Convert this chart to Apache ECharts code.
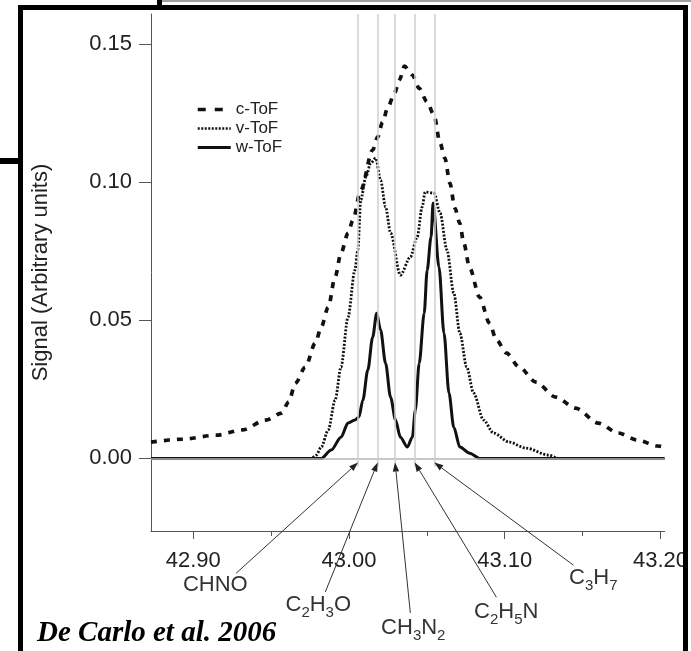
<!DOCTYPE html>
<html>
<head>
<meta charset="utf-8">
<script src="https://cdn.jsdelivr.net/npm/echarts@6/dist/echarts.min.js"></script>
<style>
  html, body { margin: 0; padding: 0; background: #fff; }
  #chart { width: 691px; height: 651px; }
</style>
</head>
<body>
<div id="chart"></div>
<script>
// m/z 43 peak, three ToF modes
const seriesNames = ['c-ToF', 'v-ToF', 'w-ToF'];

const cTofMass = [42.8729, 42.8933, 42.9149, 42.9314, 42.9466, 42.9568, 42.9612, 42.9657, 42.9720, 42.9784,
  42.9822, 42.9867, 42.9911, 42.9949, 42.9994, 43.0025, 43.0076, 43.0152, 43.0184, 43.0216,
  43.0248, 43.0292, 43.0324, 43.0356, 43.0407, 43.0451, 43.0502, 43.0546, 43.0585, 43.0616,
  43.0648, 43.0680, 43.0712, 43.0737, 43.0775, 43.0839, 43.0902, 43.0947, 43.1010, 43.1093,
  43.1201, 43.1328, 43.1455, 43.1601, 43.1728, 43.1855, 43.1982, 43.2027];
const cTofSignal = [0.0059, 0.0070, 0.0084, 0.0103, 0.0139, 0.0164, 0.0204, 0.0273, 0.0331, 0.0418,
  0.0476, 0.0548, 0.0657, 0.0744, 0.0816, 0.0863, 0.0972, 0.1117, 0.1164, 0.1218,
  0.1269, 0.1323, 0.1371, 0.1421, 0.1389, 0.1341, 0.1291, 0.1244, 0.1142, 0.1088,
  0.0997, 0.0907, 0.0852, 0.0780, 0.0690, 0.0584, 0.0490, 0.0429, 0.0382, 0.0331,
  0.0276, 0.0222, 0.0182, 0.0128, 0.0092, 0.0066, 0.0045, 0.0041];

const vTofMass = [42.8729, 42.9759, 42.9790, 42.9822, 42.9867, 42.9911, 42.9949, 42.9994, 43.0038, 43.0057,
  43.0076, 43.0108, 43.0140, 43.0172, 43.0203, 43.0235, 43.0267, 43.0330, 43.0394, 43.0438,
  43.0470, 43.0489, 43.0546, 43.0585, 43.0629, 43.0673, 43.0712, 43.0756, 43.0800, 43.0864,
  43.0928, 43.1029, 43.1137, 43.1283, 43.1347, 43.2027];
const vTofSignal = [0, 0, 0.0012, 0.0041, 0.0103, 0.0211, 0.0331, 0.0512, 0.0682, 0.0755,
  0.0936, 0.1019, 0.1070, 0.1088, 0.1008, 0.0911, 0.0817, 0.0664, 0.0729, 0.0802,
  0.0911, 0.0965, 0.0961, 0.0889, 0.0755, 0.0599, 0.0454, 0.0331, 0.0237, 0.0139,
  0.0092, 0.0059, 0.0037, 0.0012, 0, 0];

const wTofMass = [42.8729, 42.9822, 42.9886, 42.9949, 42.9994, 43.0038, 43.0064, 43.0089, 43.0121, 43.0152,
  43.0178, 43.0203, 43.0235, 43.0267, 43.0299, 43.0330, 43.0375, 43.0407, 43.0426, 43.0451,
  43.0483, 43.0502, 43.0527, 43.0540, 43.0578, 43.0610, 43.0642, 43.0673, 43.0712, 43.0775,
  43.0839, 43.2027];
const wTofSignal = [0, 0, 0.0030, 0.0077, 0.0128, 0.0139, 0.0150, 0.0211, 0.0320, 0.0439,
  0.0526, 0.0465, 0.0345, 0.0222, 0.0139, 0.0077, 0.0041, 0.0077, 0.0175, 0.0345,
  0.0526, 0.0682, 0.0802, 0.0925, 0.0693, 0.0454, 0.0237, 0.0113, 0.0041, 0.0019,
  0, 0];

// ion formulas and their exact masses
const formulaNames = ['CHNO', 'C{s|2}H{s|3}O', 'CH{s|3}N{s|2}', 'C{s|2}H{s|5}N', 'C{s|3}H{s|7}'];
const formulaMass = [43.0058, 43.0184, 43.0296, 43.0422, 43.0548];

// where the labels / arrow tails sit (data units, below the axis)
const labelMass = [42.9142, 42.9803, 43.0413, 43.1010, 43.1569];
const labelSignal = [-0.0459, -0.0531, -0.0615, -0.0557, -0.0434];
const tailMass = [42.9276, 42.9848, 43.0394, 43.0947, 43.1442];
const tailSignal = [-0.0416, -0.0484, -0.0560, -0.0503, -0.0387];
const arrowTipSignal = -0.0015;

const xTicks = [42.9, 43.0, 43.1, 43.2];
const xTickLabels = ['42.90', '43.00', '43.10', '43.20'];
const xMinorTicks = [42.95, 43.05, 43.15];
const yTicks = [0, 0.05, 0.10, 0.15];
const yTickLabels = ['0.00', '0.05', '0.10', '0.15'];

const xMin = 42.8729, xMax = 43.2027;
const yMin = -0.0263, yMax = 0.161;

const FONT = 'Liberation Sans, Arial, sans-serif';
const INK = '#111';

function pairs(xs, ys) {
  return xs.map((x, i) => [x, ys[i]]);
}

const chart = echarts.init(document.getElementById('chart'), null, { renderer: 'canvas' });

const option = {
  backgroundColor: '#fff',
  animation: false,
  color: [INK, INK, INK],
  grid: { left: 151, right: 21, top: 14, bottom: 120 },
  legend: {
    orient: 'vertical',
    left: 196,
    top: 101,
    padding: 0,
    itemWidth: 33,
    itemHeight: 10,
    itemGap: 2,
    itemStyle: { opacity: 0 },
    textStyle: { fontFamily: FONT, fontSize: 17, color: '#222' },
    data: [
      { name: 'c-ToF', lineStyle: { type: [8, 9], width: 3.5 } },
      { name: 'v-ToF', lineStyle: { type: [2, 1.5], width: 2.6 } },
      { name: 'w-ToF', lineStyle: { width: 3 } }
    ]
  },
  xAxis: [
    {
      type: 'value',
      min: xMin,
      max: xMax,
      axisLine: { onZero: false, lineStyle: { color: '#555', width: 1 } },
      axisTick: { inside: false, length: 8, customValues: xTicks, lineStyle: { color: '#555' } },
      axisLabel: {
        customValues: xTicks,
        margin: 19,
        fontFamily: FONT,
        fontSize: 22,
        color: '#222',
        formatter: v => xTickLabels[xTicks.findIndex(t => Math.abs(t - v) < 1e-6)] || ''
      },
      splitLine: { show: false }
    },
    {
      // minor ticks
      type: 'value',
      min: xMin,
      max: xMax,
      position: 'bottom',
      axisLine: { show: false, onZero: false },
      axisTick: { inside: false, length: 5, customValues: xMinorTicks, lineStyle: { color: '#555' } },
      axisLabel: { show: false },
      splitLine: { show: false }
    }
  ],
  yAxis: {
    type: 'value',
    min: yMin,
    max: yMax,
    name: 'Signal (Arbitrary units)',
    nameLocation: 'middle',
    nameGap: 99,
    nameTextStyle: { fontFamily: FONT, fontSize: 22, color: '#222' },
    axisLine: { show: true, onZero: false, lineStyle: { color: '#555', width: 1 } },
    axisTick: { show: true, inside: false, length: 12, customValues: yTicks, lineStyle: { color: '#555' } },
    axisLabel: {
      customValues: yTicks,
      margin: 19,
      fontFamily: FONT,
      fontSize: 22,
      color: '#222',
      formatter: v => yTickLabels[yTicks.findIndex(t => Math.abs(t - v) < 1e-6)] || ''
    },
    splitLine: { show: false }
  },
  series: [
    {
      name: 'c-ToF',
      type: 'line',
      z: 3,
      symbol: 'none',
      smooth: 0.3,
      smoothMonotone: 'x',
      data: pairs(cTofMass, cTofSignal),
      itemStyle: { color: INK },
      lineStyle: { color: INK, width: 3.7, type: [6, 7], cap: 'butt' }
    },
    {
      name: 'v-ToF',
      type: 'line',
      z: 3,
      symbol: 'none',
      smooth: 0.3,
      smoothMonotone: 'x',
      data: pairs(vTofMass, vTofSignal),
      itemStyle: { color: INK },
      lineStyle: { color: INK, width: 2.8, type: [2, 1.6] }
    },
    {
      name: 'w-ToF',
      type: 'line',
      z: 4,
      symbol: 'none',
      smooth: 0.3,
      smoothMonotone: 'x',
      data: pairs(wTofMass, wTofSignal),
      itemStyle: { color: INK },
      lineStyle: { color: INK, width: 3 }
    },
    {
      // reference lines: zero baseline + formula positions
      name: 'guides',
      type: 'line',
      z: 1,
      data: [],
      markLine: {
        silent: true,
        symbol: ['none', 'none'],
        label: { show: false },
        animation: false,
        data: [
          { yAxis: 0, lineStyle: { color: '#b4b4b4', width: 1.5, type: 'solid' } }
        ].concat(formulaMass.map(m => [
          { coord: [m, yMax], lineStyle: { color: '#cfcfcf', width: 1.5, type: 'solid' } },
          { coord: [m, -0.003] }
        ]))
      }
    }
  ]
};

chart.setOption(option);

// arrows + formula labels placed through the chart's own scales
const toPx = (x, y) => chart.convertToPixel({ seriesIndex: 0 }, [x, y]);
const annot = [];
formulaMass.forEach((m, i) => {
  const tip = toPx(m, arrowTipSignal);
  const tail = toPx(tailMass[i], tailSignal[i]);
  const dx = tip[0] - tail[0], dy = tip[1] - tail[1];
  const len = Math.sqrt(dx * dx + dy * dy);
  const ux = dx / len, uy = dy / len;
  const bx = tip[0] - ux * 9, by = tip[1] - uy * 9;
  annot.push({
    type: 'line', z: 10,
    shape: { x1: tail[0], y1: tail[1], x2: bx, y2: by },
    style: { stroke: '#333', lineWidth: 1 }
  });
  annot.push({
    type: 'polygon', z: 10,
    shape: { points: [tip, [bx - uy * 3.2, by + ux * 3.2], [bx + uy * 3.2, by - ux * 3.2]] },
    style: { fill: '#222' }
  });
  const lp = toPx(labelMass[i], labelSignal[i]);
  annot.push({
    type: 'text', z: 10, x: lp[0], y: lp[1],
    style: {
      text: formulaNames[i],
      fontFamily: FONT, fontSize: 22, fill: '#333',
      lineHeight: 30,
      align: 'center', verticalAlign: 'middle',
      rich: { s: { fontFamily: FONT, fontSize: 15, lineHeight: 15, verticalAlign: 'bottom', fill: '#333' } }
    }
  });
});

// slide frame around the figure
const frame = [
  { type: 'rect', z: 20, shape: { x: 162, y: 0, width: 529, height: 2 }, style: { fill: '#a0a0a0' } },
  { type: 'rect', z: 20, shape: { x: 18, y: 5, width: 670, height: 5 }, style: { fill: '#000' } },
  { type: 'rect', z: 20, shape: { x: 18, y: 5, width: 5, height: 646 }, style: { fill: '#000' } },
  { type: 'rect', z: 20, shape: { x: 683, y: 5, width: 5, height: 646 }, style: { fill: '#000' } },
  { type: 'rect', z: 20, shape: { x: 157, y: 0, width: 5, height: 5 }, style: { fill: '#000' } },
  { type: 'rect', z: 20, shape: { x: 0, y: 158, width: 18, height: 6 }, style: { fill: '#000' } },
  { type: 'rect', z: 19, shape: { x: 688, y: 0, width: 3, height: 651 }, style: { fill: '#fff' } },
  {
    type: 'text', z: 20, x: 37, y: 634,
    style: {
      text: 'De Carlo et al. 2006',
      fontFamily: 'Liberation Serif, Times New Roman, serif',
      fontSize: 29, fontWeight: 'bold', fontStyle: 'italic',
      fill: '#000', align: 'left', verticalAlign: 'middle'
    }
  }
];

chart.setOption({ graphic: frame.concat(annot) });
</script>
</body>
</html>
